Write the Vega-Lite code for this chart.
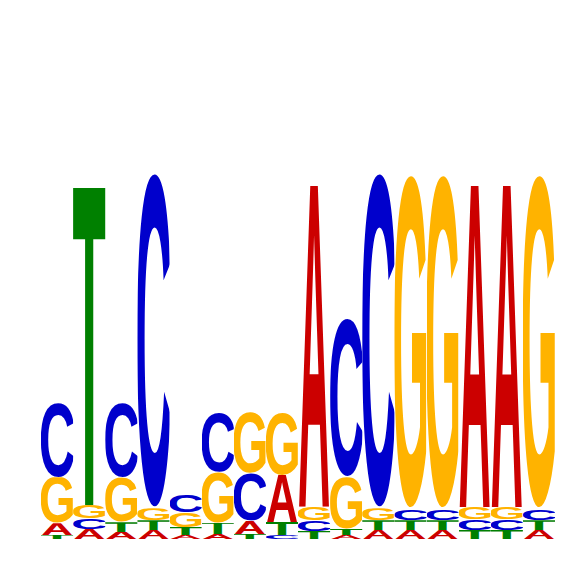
{
  "$schema": "https://vega.github.io/schema/vega-lite/v6.json",
  "description": "Sequence logo, 16 positions, letter height in bits",
  "width": 514,
  "height": 460,
  "autosize": "none",
  "padding": {"left": 41, "top": 79, "right": 11, "bottom": 27},
  "background": "white",
  "config": {"view": {"stroke": null}},
  "data": {
    "values": [
      {"pos": 1, "base": "T", "bits": 0.017}, {"pos": 1, "base": "A", "bits": 0.052}, {"pos": 1, "base": "G", "bits": 0.200}, {"pos": 1, "base": "C", "bits": 0.326},
      {"pos": 2, "base": "A", "bits": 0.043}, {"pos": 2, "base": "C", "bits": 0.048}, {"pos": 2, "base": "G", "bits": 0.057}, {"pos": 2, "base": "T", "bits": 1.378},
      {"pos": 3, "base": "A", "bits": 0.030}, {"pos": 3, "base": "T", "bits": 0.043}, {"pos": 3, "base": "G", "bits": 0.196}, {"pos": 3, "base": "C", "bits": 0.322},
      {"pos": 4, "base": "A", "bits": 0.039}, {"pos": 4, "base": "T", "bits": 0.043}, {"pos": 4, "base": "G", "bits": 0.052}, {"pos": 4, "base": "C", "bits": 1.461},
      {"pos": 5, "base": "A", "bits": 0.017}, {"pos": 5, "base": "T", "bits": 0.035}, {"pos": 5, "base": "G", "bits": 0.065}, {"pos": 5, "base": "C", "bits": 0.074},
      {"pos": 6, "base": "A", "bits": 0.022}, {"pos": 6, "base": "T", "bits": 0.048}, {"pos": 6, "base": "G", "bits": 0.222}, {"pos": 6, "base": "C", "bits": 0.261},
      {"pos": 7, "base": "T", "bits": 0.022}, {"pos": 7, "base": "A", "bits": 0.057}, {"pos": 7, "base": "C", "bits": 0.209}, {"pos": 7, "base": "G", "bits": 0.265},
      {"pos": 8, "base": "C", "bits": 0.017}, {"pos": 8, "base": "T", "bits": 0.057}, {"pos": 8, "base": "A", "bits": 0.204}, {"pos": 8, "base": "G", "bits": 0.270},
      {"pos": 9, "base": "T", "bits": 0.035}, {"pos": 9, "base": "C", "bits": 0.048}, {"pos": 9, "base": "G", "bits": 0.057}, {"pos": 9, "base": "A", "bits": 1.396},
      {"pos": 10, "base": "A", "bits": 0.017}, {"pos": 10, "base": "T", "bits": 0.026}, {"pos": 10, "base": "G", "bits": 0.226}, {"pos": 10, "base": "C", "bits": 0.687},
      {"pos": 11, "base": "A", "bits": 0.039}, {"pos": 11, "base": "T", "bits": 0.043}, {"pos": 11, "base": "G", "bits": 0.052}, {"pos": 11, "base": "C", "bits": 1.461},
      {"pos": 12, "base": "A", "bits": 0.039}, {"pos": 12, "base": "T", "bits": 0.043}, {"pos": 12, "base": "C", "bits": 0.048}, {"pos": 12, "base": "G", "bits": 1.457},
      {"pos": 13, "base": "A", "bits": 0.039}, {"pos": 13, "base": "T", "bits": 0.043}, {"pos": 13, "base": "C", "bits": 0.048}, {"pos": 13, "base": "G", "bits": 1.457},
      {"pos": 14, "base": "T", "bits": 0.039}, {"pos": 14, "base": "C", "bits": 0.048}, {"pos": 14, "base": "G", "bits": 0.052}, {"pos": 14, "base": "A", "bits": 1.396},
      {"pos": 15, "base": "T", "bits": 0.039}, {"pos": 15, "base": "C", "bits": 0.048}, {"pos": 15, "base": "G", "bits": 0.052}, {"pos": 15, "base": "A", "bits": 1.396},
      {"pos": 16, "base": "A", "bits": 0.039}, {"pos": 16, "base": "T", "bits": 0.043}, {"pos": 16, "base": "C", "bits": 0.048}, {"pos": 16, "base": "G", "bits": 1.457}
    ]
  },
  "transform": [
    {"stack": "bits", "groupby": ["pos"], "sort": [{"field": "bits", "order": "ascending"}], "as": ["y0", "y1"]},
    {
      "calculate": "datum.base === 'A' ? 'data:image/svg+xml;utf8,<svg xmlns=\"http://www.w3.org/2000/svg\" width=\"72.2\" height=\"68.8\" viewBox=\"0 -68.8 72.2 68.8\" preserveAspectRatio=\"none\"><text x=\"0\" y=\"0\" font-family=\"Liberation Sans, Arial, sans-serif\" font-weight=\"bold\" font-size=\"100\" fill=\"%23CC0000\">A</text></svg>' : datum.base === 'C' ? 'data:image/svg+xml;utf8,<svg xmlns=\"http://www.w3.org/2000/svg\" width=\"63.1\" height=\"71.7\" viewBox=\"4.4 -70.3 63.1 71.7\" preserveAspectRatio=\"none\"><text x=\"0\" y=\"0\" font-family=\"Liberation Sans, Arial, sans-serif\" font-weight=\"bold\" font-size=\"100\" fill=\"%230000CC\">C</text></svg>' : datum.base === 'G' ? 'data:image/svg+xml;utf8,<svg xmlns=\"http://www.w3.org/2000/svg\" width=\"67.6\" height=\"71.7\" viewBox=\"4.5 -70.3 67.6 71.7\" preserveAspectRatio=\"none\"><text x=\"0\" y=\"0\" font-family=\"Liberation Sans, Arial, sans-serif\" font-weight=\"bold\" font-size=\"100\" fill=\"%23FFB300\">G</text></svg>' : 'data:image/svg+xml;utf8,<svg xmlns=\"http://www.w3.org/2000/svg\" width=\"56.7\" height=\"68.8\" viewBox=\"2.2 -68.8 56.7 68.8\" preserveAspectRatio=\"none\"><text x=\"0\" y=\"0\" font-family=\"Liberation Sans, Arial, sans-serif\" font-weight=\"bold\" font-size=\"100\" fill=\"%23008000\">T</text></svg>'",
      "as": "glyph"
    }
  ],
  "mark": {"type": "image", "aspect": false},
  "encoding": {
    "x": {"field": "pos", "type": "ordinal", "axis": null, "scale": {"type": "band", "paddingInner": 0, "paddingOuter": 0}},
    "y": {"field": "y0", "type": "quantitative", "axis": null, "scale": {"domain": [0, 2]}},
    "y2": {"field": "y1"},
    "url": {"field": "glyph", "type": "nominal"}
  }
}
